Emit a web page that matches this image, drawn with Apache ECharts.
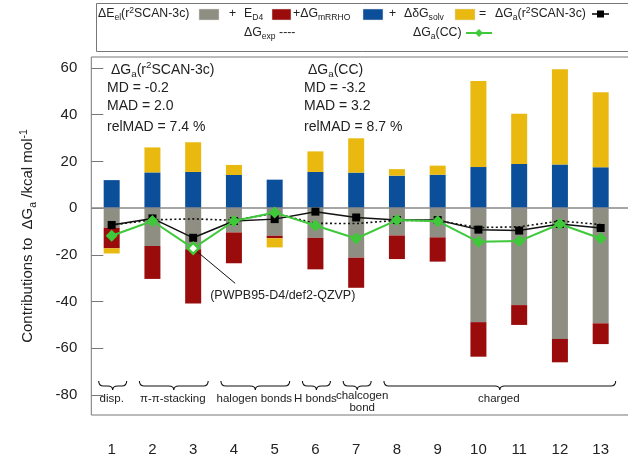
<!DOCTYPE html>
<html><head><meta charset="utf-8">
<script src="https://cdn.jsdelivr.net/npm/echarts@6/dist/echarts.min.js"></script>
<style>html,body{margin:0;padding:0;background:#fff}#c{width:628px;height:460px}</style>
</head><body><div id="c"></div>
<script>
// ---------- data ----------
const categories = ['1','2','3','4','5','6','7','8','9','10','11','12','13'];
const yTickValues = [-80, -60, -40, -20, 0, 20, 40, 60];
const dEel    = [-8.4, -16.2, -17.6, -10.4, -11.8, -12.7, -21.2, -11.7, -12.5, -48.8, -41.5, -56.0, -49.3];
const eD4     = [-8.8, -14.1, -23.2, -13.2, -1.1, -13.5, -12.9, -10.1, -10.4, -14.8, -8.5, -10.0, -8.9];
const dGmRRHO = [12.0, 15.3, 15.5, 14.2, 12.2, 15.5, 15.2, 13.9, 14.3, 17.6, 18.9, 18.7, 17.5];
const ddGsolv = [-2.2, 10.7, 12.7, 4.3, -3.9, 8.8, 14.7, 2.8, 3.9, 36.8, 21.5, 40.8, 32.1];
const dGaR2scan = [-7.2, -4.4, -12.7, -5.5, -4.7, -1.5, -4.0, -5.1, -5.1, -9.2, -9.6, -6.8, -8.5];
const dGaCC     = [-11.8, -5.5, -17.2, -5.5, -1.9, -7.4, -13.0, -5.1, -5.6, -14.4, -14.1, -6.8, -13.0];
const dGexp     = [-7.2, -5.0, -4.6, -5.2, -2.2, -6.5, -6.6, -5.2, -5.4, -8.3, -8.0, -5.5, -7.0];
const groupRanges = [[0, 0], [1, 2], [3, 4], [5, 5], [6, 6], [7, 12]];
const groupLabels = ['disp.', 'π-π-stacking', 'halogen bonds', 'H bonds', 'chalcogen\nbond', 'charged'];
const hollowIndex = 2;
const annotationText = '(PWPB95-D4/def2-QZVP)';
const statsR2 = ['ΔG{sub|a}(r{sup|2}SCAN-3c)', 'MD = -0.2', 'MAD = 2.0', 'relMAD = 7.4 %'];
const statsCC = ['ΔG{sub|a}(CC)', 'MD = -3.2', 'MAD = 3.2', 'relMAD = 8.7 %'];

// ---------- style ----------
const FONT = 'Liberation Sans, Arial, Helvetica, sans-serif';
const C_GRAY = '#8e8e83', C_RED = '#9a0c0c', C_BLUE = '#0b4f9b', C_YEL = '#e9b90f', C_GREEN = '#3ec83a';
const TXT = '#222';
const LFS = 12.3;
const richSS = (fs) => ({
  sub: { fontSize: fs * 0.7, lineHeight: fs * 0.75, verticalAlign: 'bottom', fontFamily: FONT, fill: TXT, color: TXT },
  sup: { fontSize: fs * 0.7, lineHeight: fs * 0.75, verticalAlign: 'top', fontFamily: FONT, fill: TXT, color: TXT }
});
const paddedCats = categories.concat(['']);

const chart = echarts.init(document.getElementById('c'), null, { renderer: 'canvas' });

function txt(x, y, text, fs, extra) {
  return Object.assign({
    type: 'text', x: x, y: y, z: 100,
    style: Object.assign({ text: text, fontSize: fs, fontFamily: FONT, fill: TXT,
      verticalAlign: 'middle', align: 'left', lineHeight: fs * 1.35, rich: richSS(fs) }, extra || {})
  });
}
function swatch(x, y, w, h, color) {
  return { type: 'rect', z: 100, shape: { x: x, y: y, width: w, height: h }, style: { fill: color, stroke: '#ddd', lineWidth: 0.5 } };
}

const legendGraphics = [
  { type: 'rect', z: 99, shape: { x: 96.5, y: 3.5, width: 560, height: 48 }, style: { fill: '#fff', stroke: '#777', lineWidth: 1 } },
  txt(98, 14, 'ΔE{sub|el}(r{sup|2}SCAN-3c)', LFS),
  swatch(199, 9, 20, 11, C_GRAY),
  txt(229, 14, '+', LFS),
  txt(244, 14, 'E{sub|D4}', LFS),
  swatch(272, 9, 19, 11, C_RED),
  txt(293, 14, '+ΔG{sub|mRRHO}', LFS),
  swatch(363, 9, 20, 11, C_BLUE),
  txt(389, 14, '+', LFS),
  txt(404, 14, 'ΔδG{sub|solv}', LFS),
  swatch(455, 9, 20, 11, C_YEL),
  txt(479, 14, '=', LFS),
  txt(495, 14, 'ΔG{sub|a}(r{sup|2}SCAN-3c)', LFS),
  { type: 'line', z: 100, shape: { x1: 592, y1: 14, x2: 609, y2: 14 }, style: { stroke: '#000', lineWidth: 1.5 } },
  { type: 'rect', z: 100, shape: { x: 597, y: 10.5, width: 7, height: 7 }, style: { fill: '#000' } },
  txt(244, 33, 'ΔG{sub|exp} ----', LFS),
  txt(413, 33, 'ΔG{sub|a}(CC)', LFS),
  { type: 'line', z: 100, shape: { x1: 466, y1: 33, x2: 492, y2: 33 }, style: { stroke: C_GREEN, lineWidth: 2 } },
  { type: 'polygon', z: 100, shape: { points: [[479, 29], [483, 33], [479, 37], [475, 33]] }, style: { fill: C_GREEN } }
];
const statsGraphics = [];
const statsY = [70, 88, 106, 127];
statsR2.forEach((t, i) => statsGraphics.push(txt(i === 0 ? 111 : 107, statsY[i], t, 14)));
statsCC.forEach((t, i) => statsGraphics.push(txt(i === 0 ? 308 : 304, statsY[i], t, 14)));

function braceRender(params, api) {
  const s = api.value(0), e = api.value(1);
  const ps = api.coord([s, -74]);
  const pe = api.coord([e, -74]);
  const x0 = ps[0] - 13, x1 = pe[0] + 15;
  const yTop = ps[1], yMid = yTop + 5, yTip = yTop + 9, xc = (x0 + x1) / 2, r = 5;
  const path = `M${x0},${yTop} Q${x0},${yMid} ${x0 + r},${yMid} L${xc - r},${yMid} Q${xc},${yMid} ${xc},${yTip} ` +
               `Q${xc},${yMid} ${xc + r},${yMid} L${x1 - r},${yMid} Q${x1},${yMid} ${x1},${yTop}`;
  const label = groupLabels[params.dataIndex];
  const nLines = label.split('\n').length;
  return {
    type: 'group',
    children: [
      { type: 'path', shape: { pathData: path }, style: { fill: 'none', stroke: '#111', lineWidth: 1.1 } },
      { type: 'text', x: (ps[0] + pe[0]) / 2 + (nLines > 1 ? 6 : 0), y: yTop + (nLines > 1 ? 21 : 18),
        style: { text: label, fontSize: 11.5, fontFamily: FONT, fill: TXT, align: 'center', verticalAlign: 'middle', lineHeight: 12 } }
    ]
  };
}

const barBase = { type: 'bar', stack: 'contrib', barWidth: 16, stackStrategy: 'samesign' };

const option = {
  animation: false,
  backgroundColor: '#fff',
  textStyle: { fontFamily: FONT },
  grid: { left: 91.3, top: 57, width: 570.5, height: 358, outerBoundsMode: 'none', containLabel: false,
          show: true, borderColor: '#777', borderWidth: 1, backgroundColor: 'transparent' },
  xAxis: {
    type: 'category', data: paddedCats, boundaryGap: true, offset: 1,
    axisLine: { show: false },
    axisTick: { show: true, alignWithLabel: true, length: 12, interval: (i) => i < categories.length, lineStyle: { color: '#777', width: 1 } },
    axisLabel: { interval: 0, margin: 26, fontSize: 15, color: TXT, fontFamily: FONT },
    splitLine: { show: false }
  },
  yAxis: {
    type: 'value', min: -88.56, max: 64.71,
    axisLine: { show: false },
    axisTick: { show: true, inside: true, length: 12, customValues: yTickValues, lineStyle: { color: '#777', width: 1 } },
    axisLabel: { customValues: yTickValues, margin: 14, fontSize: 15, color: TXT, fontFamily: FONT },
    splitLine: { show: false },
    name: 'Contributions to  ΔG{sub|a} /kcal mol{sup|-1}',
    nameLocation: 'middle', nameGap: 53, nameRotate: 90,
    nameTextStyle: { fontSize: 15, color: TXT, fontFamily: FONT, lineHeight: 20,
      rich: { sub: { fontSize: 10.5, lineHeight: 11, verticalAlign: 'bottom', color: TXT, fontFamily: FONT },
              sup: { fontSize: 10.5, lineHeight: 11, verticalAlign: 'top', color: TXT, fontFamily: FONT } } }
  },
  series: [
    Object.assign({}, barBase, { name: 'el', data: dEel, itemStyle: { color: C_GRAY },
      markLine: { silent: true, symbol: 'none', label: { show: false }, lineStyle: { color: '#888', width: 1.5, type: 'solid' }, data: [{ yAxis: 0 }] } }),
    Object.assign({}, barBase, { name: 'D4', data: eD4, itemStyle: { color: C_RED } }),
    Object.assign({}, barBase, { name: 'mRRHO', data: dGmRRHO, itemStyle: { color: C_BLUE } }),
    Object.assign({}, barBase, { name: 'solv', data: ddGsolv, itemStyle: { color: C_YEL } }),
    { type: 'line', name: 'exp', data: dGexp, symbol: 'none', z: 5,
      lineStyle: { color: '#111', width: 1.6, type: [2, 2.5] } },
    { type: 'line', name: 'r2SCAN', data: dGaR2scan, symbol: 'rect', symbolSize: 8, z: 6,
      itemStyle: { color: '#000' }, lineStyle: { color: '#111', width: 1.5 } },
    { type: 'line', name: 'CC', z: 7, symbol: 'diamond', symbolSize: 12,
      data: dGaCC.map((v, i) => i === hollowIndex ? { value: v, symbolSize: 11, itemStyle: { color: '#fff', borderColor: C_GREEN, borderWidth: 2.5 } } : v),
      itemStyle: { color: C_GREEN }, lineStyle: { color: C_GREEN, width: 2 } },
    { type: 'custom', name: 'groups', data: groupRanges, renderItem: braceRender, clip: false, silent: true, z: 8,
      encode: { x: [0, 1], y: [] } }
  ],
  graphic: legendGraphics.concat(statsGraphics)
};
chart.setOption(option);

const p = chart.convertToPixel({ xAxisIndex: 0, yAxisIndex: 0 }, [hollowIndex, dGaCC[hollowIndex]]);
chart.setOption({
  graphic: legendGraphics.concat(statsGraphics).concat([
    { type: 'line', z: 4, shape: { x1: p[0], y1: p[1], x2: p[0] + 42, y2: p[1] + 35 }, style: { stroke: '#111', lineWidth: 1 } },
    txt(p[0] + 17, p[1] + 47, annotationText, 12.5)
  ])
});
</script></body></html>
